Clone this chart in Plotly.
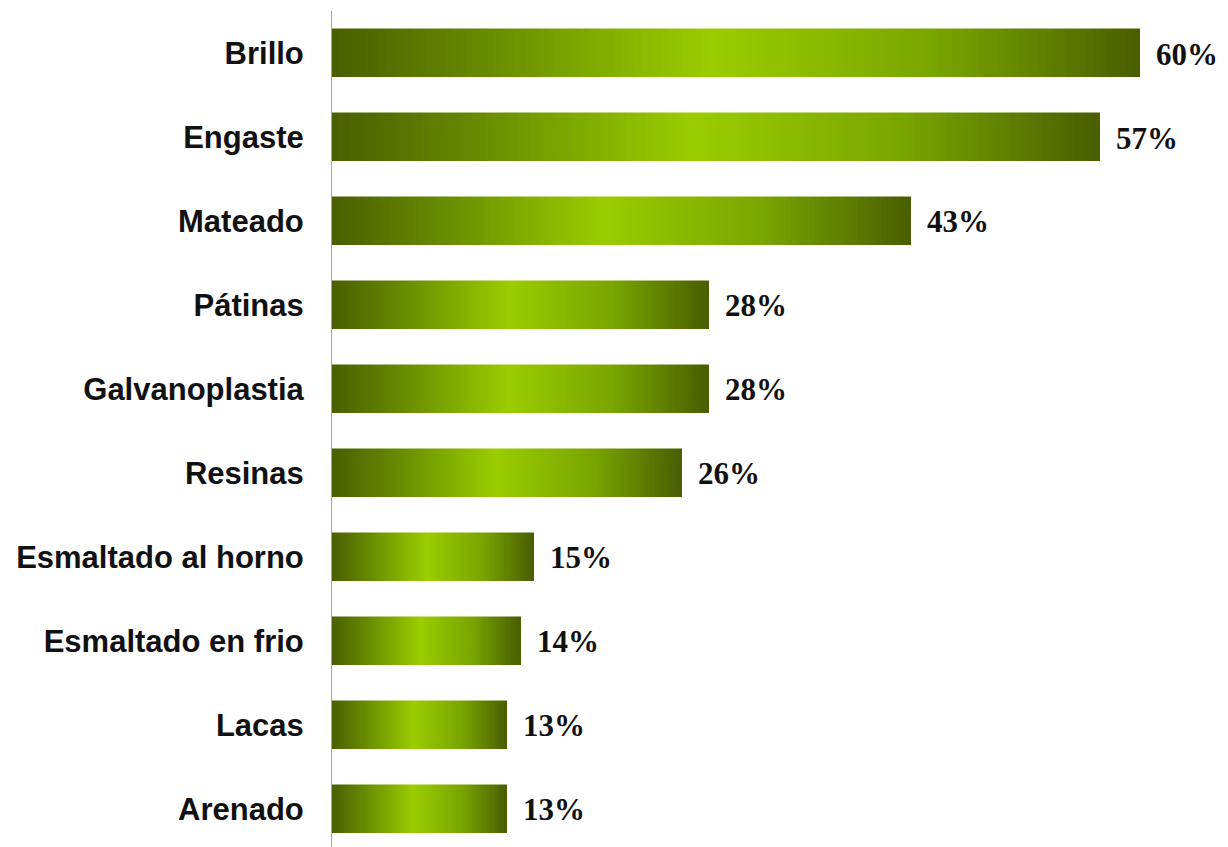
import plotly.graph_objects as go

categories = ["Brillo", "Engaste", "Mateado", "Pátinas", "Galvanoplastia",
              "Resinas", "Esmaltado al horno", "Esmaltado en frio", "Lacas", "Arenado"]
values = [60, 57, 43, 28, 28, 26, 15, 14, 13, 13]
labels = [f"{v}%" for v in values]

# gradient stops along each bar (fraction of bar length, rgb)
grad_pos = [0.0, 0.22, 0.47, 0.75, 1.0]
grad_rgb = [(74, 94, 0), (108, 146, 0), (154, 205, 0), (120, 164, 0), (74, 94, 0)]

N = 120


def color_at(t):
    for i in range(len(grad_pos) - 1):
        if grad_pos[i] <= t <= grad_pos[i + 1]:
            f = (t - grad_pos[i]) / (grad_pos[i + 1] - grad_pos[i])
            c = [round(grad_rgb[i][k] + f * (grad_rgb[i + 1][k] - grad_rgb[i][k])) for k in range(3)]
            return f"rgb({c[0]},{c[1]},{c[2]})"
    return f"rgb{grad_rgb[-1]}"


fig = go.Figure()
for k in range(N):
    col = color_at((k + 0.5) / N)
    fig.add_trace(go.Bar(
        y=categories, x=[v / N for v in values], orientation="h",
        width=0.57, marker=dict(color=col, line=dict(color=col, width=0.5)),
        showlegend=False, hoverinfo="skip"))

for c, v, lab in zip(categories, values, labels):
    fig.add_annotation(x=v, y=c, text=lab, showarrow=False, xanchor="left",
                       xshift=14, yshift=-1,
                       font=dict(family="Liberation Serif, Times New Roman, serif",
                                 size=31, color="#111111", weight="bold"))

fig.update_layout(
    width=1228, height=847, barmode="stack", bargap=0,
    margin=dict(l=324, r=15, t=3, b=0, autoexpand=False),
    paper_bgcolor="white", plot_bgcolor="white",
    xaxis=dict(range=[0, 66], visible=False, showgrid=False, zeroline=False),
    yaxis=dict(range=[9.548, -0.5], showline=True, linecolor="#a6a6a6", linewidth=1,
               showgrid=False, zeroline=False, ticks="outside", ticklen=21,
               tickcolor="rgba(0,0,0,0)", automargin=False,
               tickfont=dict(family="Liberation Sans, Arial, sans-serif", size=31,
                             color="#111111", weight="bold")),
)

fig.write_html("out.html")
